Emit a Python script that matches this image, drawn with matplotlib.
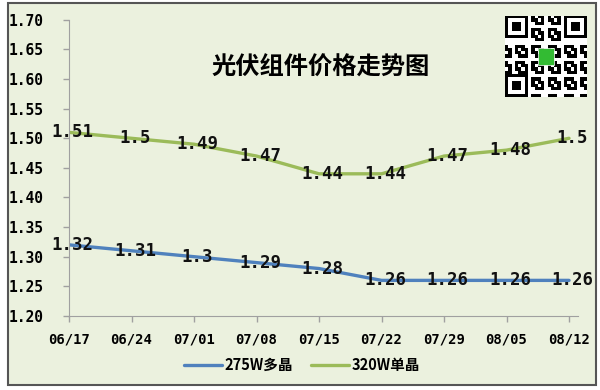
import matplotlib.pyplot as plt
import numpy as np
from matplotlib.patches import Rectangle

plt.rcParams['font.family'] = ['Noto Sans CJK SC', 'DejaVu Sans']

dates = ['06/17', '06/24', '07/01', '07/08', '07/15', '07/22', '07/29', '08/05', '08/12']
poly_275w = [1.32, 1.31, 1.3, 1.29, 1.28, 1.26, 1.26, 1.26, 1.26]
mono_320w = [1.51, 1.5, 1.49, 1.47, 1.44, 1.44, 1.47, 1.48, 1.5]
series_names = ['275W多晶', '320W单晶']

bg = '#ebf1de'
blue = '#4f81bd'
green = '#9bbb59'
mono = ['DejaVu Sans Mono', 'Noto Sans CJK SC']

fig = plt.figure(figsize=(6, 3.9), dpi=100)
fig.patch.set_facecolor('white')
# chart frame
fig.patches.append(Rectangle((8 / 600, 5 / 390), 588 / 600, 382 / 390, transform=fig.transFigure,
                             facecolor=bg, edgecolor='#555555', linewidth=1.5, zorder=-10))

ax = fig.add_axes([0.115, 0.19, 0.848, 0.759])
ax.set_facecolor(bg)
x = np.arange(len(dates))

ax.plot(x, poly_275w, color=blue, lw=2.4, label=series_names[0], solid_capstyle='round')
ax.plot(x, mono_320w, color=green, lw=2.4, label=series_names[1], solid_capstyle='round')

for i in x:
    ax.text(i + 0.055, poly_275w[i], f'{poly_275w[i]:g}', ha='center', va='center',
            fontsize=12.5, family=mono, fontweight='bold', color='#111111')
    ax.text(i + 0.055, mono_320w[i], f'{mono_320w[i]:g}', ha='center', va='center',
            fontsize=12.5, family=mono, fontweight='bold', color='#111111')

ax.set_xlim(0, 8.14)
ax.set_ylim(1.20, 1.70)
ax.set_yticks(np.arange(1.20, 1.701, 0.05))
ax.set_yticklabels([f'{v:.2f}' for v in np.arange(1.20, 1.701, 0.05)], fontsize=10.5,
                   fontweight='bold', family=mono)
ax.set_xticks(x)
ax.set_xticklabels(dates, fontsize=10, fontweight='bold', family=mono)
ax.tick_params(axis='both', color='#a0a0a0', length=4, width=1)
ax.tick_params(axis='y', pad=14)
ax.tick_params(axis='x', pad=8)
for s in ['top', 'right']:
    ax.spines[s].set_visible(False)
for s in ['left', 'bottom']:
    ax.spines[s].set_color('#a0a0a0')

fig.text(0.535, 0.826, '光伏组件价格走势图', ha='center', va='center', fontsize=17.5, fontweight='bold')

ax.legend(loc='center', bbox_to_anchor=(0.503, 1 - 365 / 390), bbox_transform=fig.transFigure,
          ncol=2, frameon=False, prop={'size': 10.5, 'weight': 'bold'},
          handlelength=2.6, columnspacing=1.2, handletextpad=0.2)

# QR-style badge in top right corner
qr = fig.add_axes([505 / 600, 1 - 98 / 390, 82 / 600, 83 / 390])
n = 25
ii, jj = np.meshgrid(np.arange(n), np.arange(n))
cells = ((ii * 7 + jj * 13 + ii * jj) % 5 < 3).astype(float)
for (r, c) in [(0, 0), (0, n - 7), (n - 7, 0)]:
    cells[r:r + 8, c:c + 8] = 0
    cells[r:r + 7, c:c + 7] = 1
    cells[r + 1:r + 6, c + 1:c + 6] = 0
    cells[r + 2:r + 5, c + 2:c + 5] = 1
qr.imshow(1 - cells, cmap='gray', interpolation='nearest', vmin=0, vmax=1)
qr.add_patch(Rectangle((9.5, 9.5), 5, 5, facecolor='#33bb33', edgecolor='white', lw=0.5))
qr.axis('off')

fig.savefig('out.png', dpi=100, facecolor='white')
